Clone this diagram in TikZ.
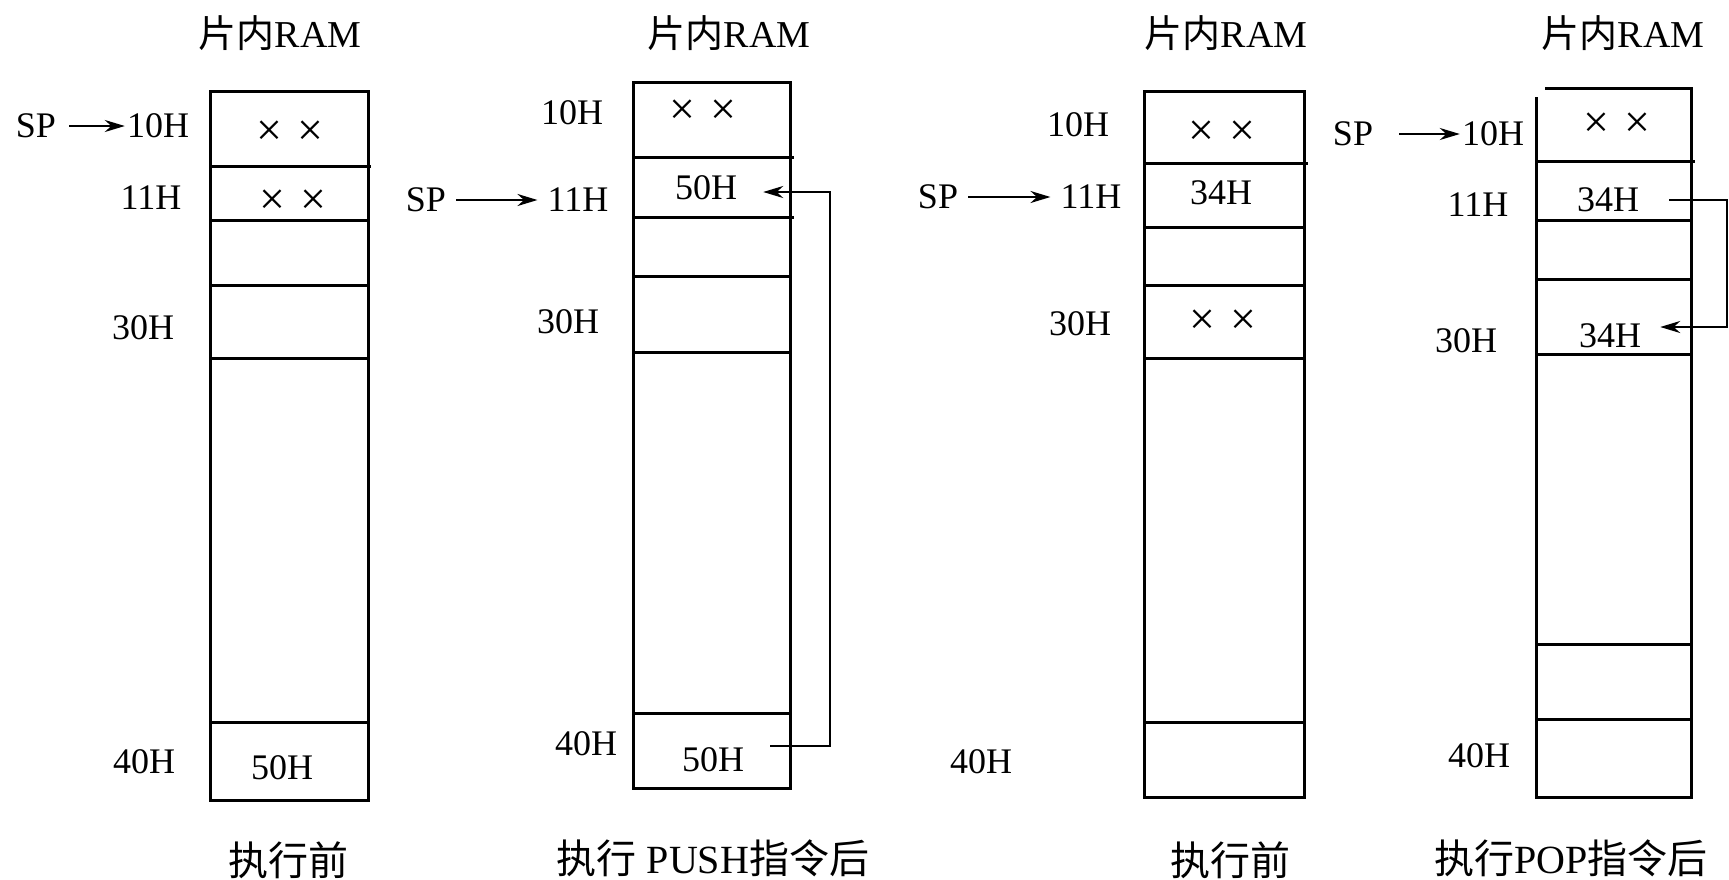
\documentclass[tikz,border=0pt]{standalone}
\usepackage{fontspec}
\setmainfont{Liberation Serif}
\newfontfamily\cjk{Noto Sans CJK SC}
\usetikzlibrary{arrows.meta}

\begin{document}
\begin{tikzpicture}[x=1pt,y=-1pt,
  cell/.style={line width=3pt},
  lbl/.style={inner sep=0pt, font=\fontsize{36}{40}\selectfont},
  xx/.style={inner sep=0pt, font=\fontsize{46}{50}\selectfont},
  ttl/.style={inner sep=0pt, font=\fontsize{38}{42}\selectfont},
  caption/.style={inner sep=0pt, font=\fontsize{40}{44}\selectfont},
  ptr/.style={line width=2.4pt, -{Stealth[length=20pt,width=12pt]}},
]
\useasboundingbox (0,0) rectangle (1729,879);

% ---------- stack 1: before PUSH ----------
\draw[cell] (210,91) rectangle (368,800);
\foreach \y in {220,285,358,722} \draw[cell] (210,\y) -- (368,\y);
\draw[cell] (210,166) -- (371,166);
\node[ttl] (r1) at (280,33) {{\cjk 片内}RAM};
\node[lbl] (sp1) at (36,126) {SP};
\node[lbl] (a1x10) at (158,126) {10H};
\node[lbl] (a1x11) at (151,198) {11H};
\node[lbl] (a1x30) at (143,328) {30H};
\node[lbl] (a1x40) at (144,762) {40H};
\node[xx] (c1x10) at (290,133) {×\hspace{15pt}×};
\node[xx] (c1x11) at (293,202) {×\hspace{15pt}×};
\node[lbl] (c1x40) at (282,768) {50H};
\node[caption] (k1) at (288,860) {\cjk 执行前};
\draw[ptr] ([xshift=13pt]sp1.east) -- ([xshift=-2pt]a1x10.west);

% ---------- stack 2: after PUSH ----------
\draw[cell] (633,82) rectangle (790,788);
\foreach \y in {276,352,713} \draw[cell] (633,\y) -- (790,\y);
\foreach \y in {157,217} \draw[cell] (633,\y) -- (794,\y);
\node[ttl] (r2) at (729,33) {{\cjk 片内}RAM};
\node[lbl] (sp2) at (426,200) {SP};
\node[lbl] (a2x10) at (572,113) {10H};
\node[lbl] (a2x11) at (578,200) {11H};
\node[lbl] (a2x30) at (568,322) {30H};
\node[lbl] (a2x40) at (586,744) {40H};
\node[xx] (c2x10) at (703,112) {×\hspace{15pt}×};
\node[lbl] (c2x11) at (706,188) {50H};
\node[lbl] (c2x40) at (713,760) {50H};
\node[caption] (k2) at (713,858) {{\cjk 执行} PUSH{\cjk 指令后}};
\draw[ptr] ([xshift=10pt]sp2.east) -- ([xshift=-10pt]a2x11.west);
\coordinate (pushbar) at (830,470);
\draw[ptr] ([xshift=26pt,yshift=14pt]c2x40.east) -| (pushbar)
  |- ([xshift=26pt,yshift=-4pt]c2x11.east);

% ---------- stack 3: before POP ----------
\draw[cell] (1144,91) rectangle (1304,797);
\foreach \y in {227,285,358,722} \draw[cell] (1144,\y) -- (1304,\y);
\draw[cell] (1144,163) -- (1308,163);
\node[ttl] (r3) at (1226,33) {{\cjk 片内}RAM};
\node[lbl] (sp3) at (938,197) {SP};
\node[lbl] (a3x10) at (1078,125) {10H};
\node[lbl] (a3x11) at (1091,197) {11H};
\node[lbl] (a3x30) at (1080,324) {30H};
\node[lbl] (a3x40) at (981,762) {40H};
\node[xx] (c3x10) at (1222,133) {×\hspace{15pt}×};
\node[lbl] (c3x11) at (1221,193) {34H};
\node[xx] (c3x30) at (1223,322) {×\hspace{15pt}×};
\node[caption] (k3) at (1230,860) {\cjk 执行前};
\draw[ptr] ([xshift=10pt]sp3.east) -- ([xshift=-10pt]a3x11.west);

% ---------- stack 4: after POP ----------
\draw[cell] (1545,88) -- (1691,88) -- (1691,797) -- (1536,797) -- (1536,97);
\foreach \y in {220,279,354,644,719} \draw[cell] (1536,\y) -- (1691,\y);
\draw[cell] (1536,161) -- (1695,161);
\node[ttl] (r4) at (1623,33) {{\cjk 片内}RAM};
\node[lbl] (sp4) at (1353,134) {SP};
\node[lbl] (a4x10) at (1493,134) {10H};
\node[lbl] (a4x11) at (1478,205) {11H};
\node[lbl] (a4x30) at (1466,341) {30H};
\node[lbl] (a4x40) at (1479,756) {40H};
\node[xx] (c4x10) at (1617,125) {×\hspace{15pt}×};
\node[lbl] (c4x11) at (1608,200) {34H};
\node[lbl] (c4x30) at (1610,336) {34H};
\node[caption] (k4) at (1571,858) {{\cjk 执行}POP{\cjk 指令后}};
\draw[ptr] ([xshift=26pt]sp4.east) -- ([xshift=-2pt]a4x10.west);
\coordinate (popbar) at (1727,260);
\draw[ptr] ([xshift=30pt]c4x11.east) -| (popbar)
  |- ([xshift=19pt,yshift=9pt]c4x30.east);
\end{tikzpicture}
\end{document}
